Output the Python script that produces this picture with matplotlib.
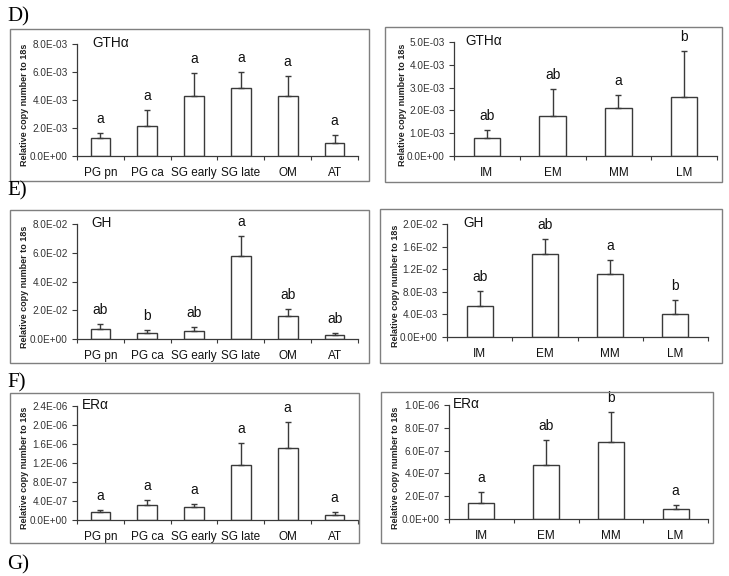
import matplotlib
matplotlib.use("Agg")
import numpy as np
import matplotlib.pyplot as plt
from matplotlib.patches import Rectangle
from matplotlib.ticker import FuncFormatter


# ========================================
# DATA
# ========================================
tissues = ["PG pn", "PG ca", "SG early", "SG late", "OM", "AT"]
stages = ["IM", "EM", "MM", "LM"]

# GTHa
gth_tissue_mean = [1.31e-3, 2.17e-3, 4.32e-3, 4.87e-3, 4.30e-3, 0.91e-3]
gth_tissue_se = [0.31e-3, 1.12e-3, 1.60e-3, 1.12e-3, 1.40e-3, 0.62e-3]
gth_tissue_sig = ["a", "a", "a", "a", "a", "a"]

gth_stage_mean = [0.81e-3, 1.74e-3, 2.09e-3, 2.57e-3]
gth_stage_se = [0.35e-3, 1.22e-3, 0.57e-3, 2.05e-3]
gth_stage_sig = ["ab", "ab", "a", "b"]

# GH
gh_tissue_mean = [0.70e-2, 0.40e-2, 0.58e-2, 5.76e-2, 1.61e-2, 0.26e-2]
gh_tissue_se = [0.35e-2, 0.23e-2, 0.24e-2, 1.40e-2, 0.51e-2, 0.18e-2]
gh_tissue_sig = ["ab", "b", "ab", "a", "ab", "ab"]

gh_stage_mean = [5.55e-3, 14.69e-3, 11.15e-3, 4.01e-3]
gh_stage_se = [2.59e-3, 2.60e-3, 2.48e-3, 2.54e-3]
gh_stage_sig = ["ab", "ab", "a", "b"]

# ERa
er_tissue_mean = [1.61e-7, 3.09e-7, 2.67e-7, 11.58e-7, 15.16e-7, 1.05e-7]
er_tissue_se = [0.43e-7, 1.19e-7, 0.63e-7, 4.62e-7, 5.40e-7, 0.70e-7]
er_tissue_sig = ["a", "a", "a", "a", "a", "a"]

er_stage_mean = [1.40e-7, 4.75e-7, 6.73e-7, 0.87e-7]
er_stage_se = [0.93e-7, 2.16e-7, 2.63e-7, 0.35e-7]
er_stage_sig = ["a", "ab", "b", "a"]


# ========================================
# FIGURE
# ========================================
W, H = 729, 576
plt.rcParams["font.family"] = ["Liberation Sans", "DejaVu Sans"]

fig = plt.figure(figsize=(W / 100, H / 100), dpi=100)

DARK = "#3a3a3a"
FRAME = "#7f7f7f"


def px_rect(x0, y0, x1, y1):
    # pixel box (top-left origin) -> figure fraction
    return [x0 / W, 1 - y1 / H, (x1 - x0) / W, (y1 - y0) / H]


def draw_frame(x0, y0, x1, y1):
    fig.patches.append(Rectangle(
        (x0 / W, 1 - y1 / H), (x1 - x0) / W, (y1 - y0) / H,
        transform=fig.transFigure, fill=False,
        edgecolor=FRAME, linewidth=1.0
    ))


def draw_panel(box, frame, labels, mean, se, sig, ymax, ystep,
               gene, gene_x, ylabel_x, width):
    draw_frame(*frame)
    ax = fig.add_axes(px_rect(*box))

    x = np.arange(len(labels))
    ax.bar(x, mean, width=width, color="white",
           edgecolor=DARK, linewidth=1.0, zorder=2)
    ax.errorbar(x, mean, yerr=[np.zeros(len(se)), se], fmt="none",
                ecolor=DARK, elinewidth=1.0, capsize=2.2,
                capthick=1.0, zorder=3)

    # significance letters
    for xi, m, s, t in zip(x, mean, se, sig):
        ax.annotate(t, (xi, m + s), xytext=(0, 5),
                    textcoords="offset points", ha="center",
                    va="bottom", fontsize=10, color="#111111")

    ax.set_xlim(-0.5, len(labels) - 0.5)
    ax.set_ylim(0, ymax)
    ax.set_yticks(np.linspace(0, ymax, int(round(ymax / ystep)) + 1))
    ax.yaxis.set_major_formatter(
        FuncFormatter(lambda v, p: f"{v:.1E}")
    )

    # category axis: ticks between categories
    ax.set_xticks(np.arange(-0.5, len(labels), 1.0))
    ax.set_xticklabels([])
    ax.set_xticks(x, minor=True)
    ax.set_xticklabels(labels, minor=True, fontsize=8.5, color="#111111")
    ax.tick_params(axis="x", which="minor", length=0, pad=8)
    ax.tick_params(axis="x", which="major", length=3, width=0.8,
                   color=DARK, direction="out")
    ax.tick_params(axis="y", length=3.5, width=0.8, color=DARK,
                   labelsize=7.2, labelcolor="#333333", pad=3)

    for side in ["top", "right"]:
        ax.spines[side].set_visible(False)
    for side in ["left", "bottom"]:
        ax.spines[side].set_color(DARK)
        ax.spines[side].set_linewidth(0.9)

    ax.patch.set_alpha(0)

    fig.text(gene_x / W, 1 - (box[1] - 1) / H, gene, fontsize=9.8,
             ha="left", va="center", color="#111111")

    fig.text(ylabel_x / W, 1 - ((frame[1] + frame[3]) / 2) / H,
             "Relative copy number to 18s", rotation=90,
             fontsize=6.5, fontweight="bold", ha="center",
             va="center", color="#222222")
    return ax


# ========================================
# PANELS
# ========================================
draw_panel((77, 44, 358, 156), (10, 29, 369, 181),
           tissues, gth_tissue_mean, gth_tissue_se, gth_tissue_sig,
           8e-3, 2e-3, "GTHα", 92, 25, 0.42)
draw_panel((454, 42, 717, 156), (385, 27, 722, 182),
           stages, gth_stage_mean, gth_stage_se, gth_stage_sig,
           5e-3, 1e-3, "GTHα", 465, 402, 0.4)

draw_panel((77, 224, 358, 339), (10, 210, 369, 363),
           tissues, gh_tissue_mean, gh_tissue_se, gh_tissue_sig,
           8e-2, 2e-2, "GH", 91, 25, 0.42)
draw_panel((447, 224, 708, 337), (380, 209, 722, 363),
           stages, gh_stage_mean, gh_stage_se, gh_stage_sig,
           2e-2, 4e-3, "GH", 463, 395, 0.4)

draw_panel((77, 406, 358, 520), (10, 393, 359, 543),
           tissues, er_tissue_mean, er_tissue_se, er_tissue_sig,
           2.4e-6, 4e-7, "ERα", 82, 25, 0.42)
draw_panel((449, 405, 708, 519), (381, 392, 713, 543),
           stages, er_stage_mean, er_stage_se, er_stage_sig,
           1e-6, 2e-7, "ERα", 453, 396, 0.4)


# ========================================
# SECTION LETTERS
# ========================================
for letter, ybase in [("D)", 21), ("E)", 195), ("F)", 387), ("G)", 569)]:
    fig.text(7 / W, 1 - ybase / H, letter, fontsize=15,
             family="Liberation Serif", ha="left", va="baseline")

fig.savefig("out.png", dpi=100)
